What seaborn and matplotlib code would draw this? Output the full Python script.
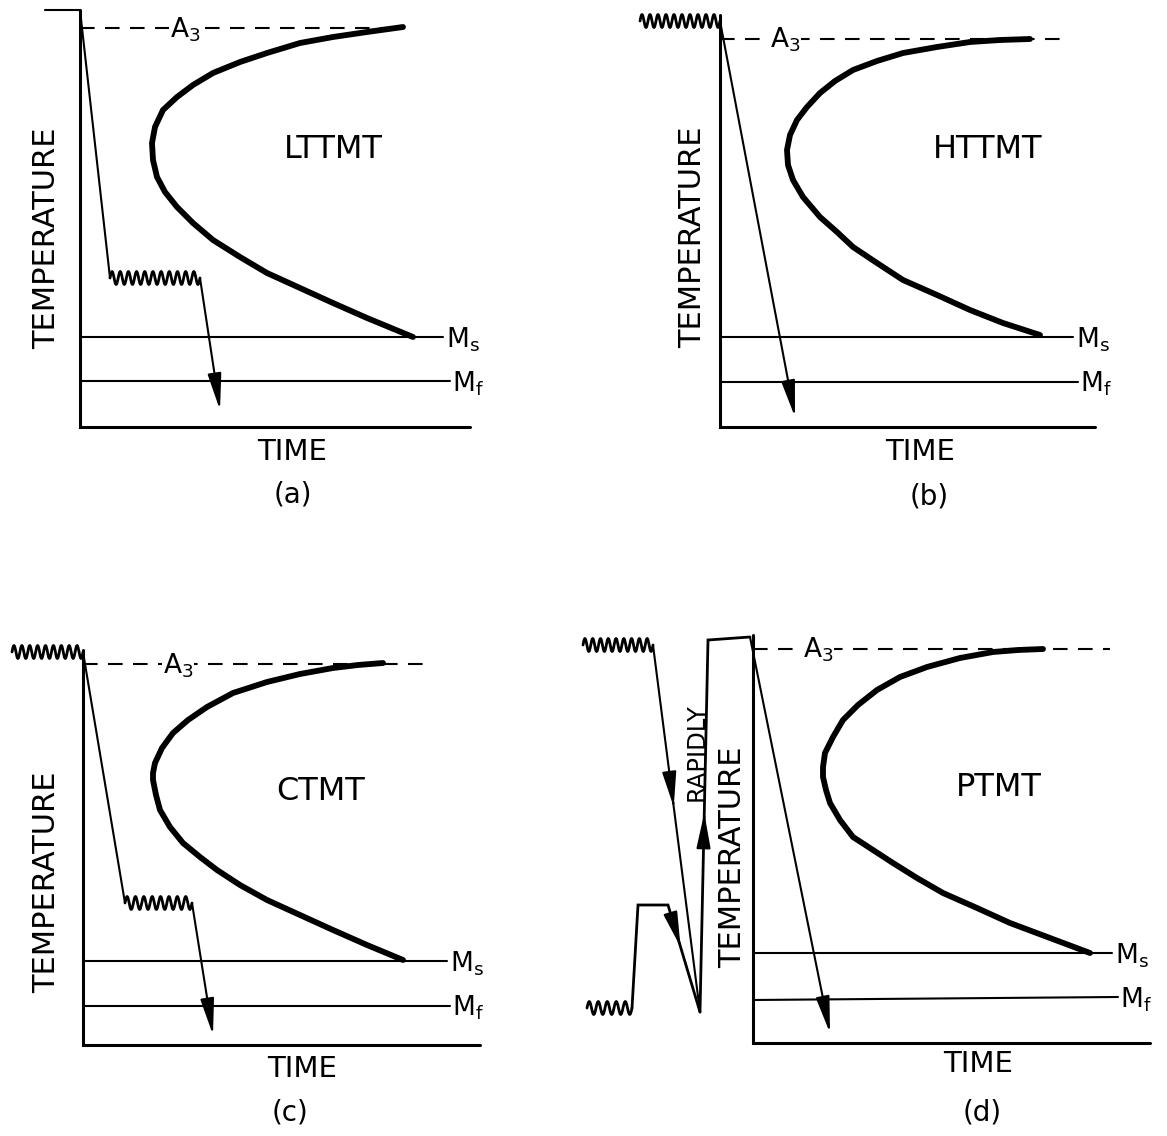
import numpy as np
import pandas as pd
import matplotlib
matplotlib.use("Agg")
import matplotlib.pyplot as plt
import seaborn as sns

sns.set_theme(style="white")
plt.rcParams["font.family"] = ["DejaVu Sans"]
plt.rcParams["mathtext.default"] = "regular"
plt.rcParams["text.color"] = "black"

W, H = 1167, 1136

# ---------------- data (local units: time to the right of the temperature axis,
# temperature above the time axis) ----------------
panel_tags = ["(a)", "(b)", "(c)", "(d)"]
process_names = ["LTTMT", "HTTMT", "CTMT", "PTMT"]

# C-curves (start of transformation)
c_time_a = [323, 287, 253, 220, 187, 160, 133, 113, 97, 83, 75, 72, 73, 77, 85, 97, 113, 133,
            160, 187, 220, 253, 287, 333]
c_temp_a = [400, 395, 390, 384, 374, 365, 354, 342, 330, 317, 300, 284, 267, 250, 235, 220, 204,
            187, 170, 154, 139, 124, 109, 90]
c_time_b = [310, 280, 250, 217, 183, 157, 133, 115, 100, 87, 77, 70, 67, 68, 73, 83, 100, 117,
            133, 157, 183, 217, 250, 283, 320]
c_temp_b = [388, 387, 385, 380, 374, 366, 357, 346, 334, 320, 307, 292, 277, 262, 247, 230, 210,
            195, 180, 164, 147, 132, 117, 104, 92]
c_time_c = [300, 275, 250, 217, 184, 150, 124, 105, 90, 79, 72, 70, 70, 73, 77, 87, 100, 117,
            134, 157, 184, 217, 250, 284, 320]
c_temp_c = [382, 380, 377, 371, 363, 352, 338, 325, 312, 297, 282, 272, 265, 250, 235, 218, 202,
            188, 175, 160, 145, 130, 115, 100, 85]
c_time_d = [290, 265, 240, 207, 174, 147, 124, 105, 90, 80, 72, 70, 70, 73, 77, 87, 100, 120,
            140, 164, 190, 224, 257, 297, 337]
c_temp_d = [394, 393, 391, 385, 376, 366, 353, 338, 323, 306, 290, 276, 266, 253, 240, 223, 206,
            193, 180, 165, 150, 135, 120, 105, 90]

a3_level = [399, 388, 381, 394]
a3_end = [323, 348, 350, 357]
a3_label_x = [90, 50, 80, 50]
ms_level = [90, 90, 84, 90]
ms_end = [363, 353, 364, 359]
mf_level_left = [46, 45, 39, 43]
mf_level_right = [46, 45, 39, 46]
mf_end = [370, 358, 367, 365]
temp_axis_top = [417, 412, 395, 408]
time_axis_end = [390, 375, 397, 397]

# label positions (local units)
temp_label_pos = [(-33, 189), (-27, 190), (-36, 163), (-20, 186)]
name_pos = [(253, 277), (268, 277), (238, 253), (246, 255)]
time_label_pos = [(212, -25), (200, -25), (219, -24), (225, -21)]
tag_pos = [(213, -68), (209, -70), (207, -67), (229, -69)]

# thermomechanical paths
# (a) LTTMT
path_a_time = [-35, 0, 30]
path_a_temp = [417, 417, 149]
hold_a = (30, 120, 149, 11)
arrow_a = ((120, 149), (140, 17))
# (b) HTTMT
hold_b = (-80, 0, 406, 10)
arrow_b = ((0, 406), (75, 10))
# (c) CTMT
hold_c1 = (-71, 0, 393, 9)
path_c_time = [0, 42]
path_c_temp = [393, 142]
hold_c2 = (42, 109, 142, 8)
arrow_c = ((109, 142), (130, 10))
# (d) PTMT
hold_d1 = (-170, -100, 398, 9)
path_d1_time = [-100, -53]
path_d1_temp = [398, 31]
mid_d1 = 236
hold_d2 = (-166, -121, 35, 5)
path_d2_time = [-121, -115, -85, -53]
path_d2_temp = [35, 138, 138, 31]
mid_d2 = 96
path_d3_time = [-53, -45, -3]
path_d3_temp = [31, 403, 406]
mid_d3 = 230
arrow_d = ((-3, 406), (77, 10))
rapid_label_pos = (-56, 291)

# panel boxes in figure pixels and axis origins in figure pixels
boxes = [(0, 0, 583, 560), (583, 0, 1167, 560), (0, 560, 560, 1136), (560, 560, 1167, 1136)]
origins = [(80, 427), (720, 427), (83, 1045), (753, 1043)]

LW_AX = 2.2
LW = 1.5
LW_C = 4.2

fig = plt.figure(figsize=(W / 100, H / 100), dpi=100)
fig.patch.set_facecolor("white")

axes = []
for (bx0, by0, bx1, by1), (ox, oy) in zip(boxes, origins):
    ax = fig.add_axes([bx0 / W, 1 - by1 / H, (bx1 - bx0) / W, (by1 - by0) / H])
    ax.set_xlim(bx0 - ox, bx1 - ox)
    ax.set_ylim(oy - by1, oy - by0)
    ax.axis("off")
    axes.append(ax)


def hold_wave(ax, spec, lw=2.0):
    x0, x1, level, cycles = spec
    t = np.linspace(0, 1, cycles * 20 + 1)
    ax.plot(x0 + (x1 - x0) * t, level + 6.5 * np.sin(2 * np.pi * cycles * t),
            color="black", lw=lw, solid_joinstyle="round", clip_on=False)


def arrow(ax, start, end, ms=28, hl=0.8, hw=0.15):
    ax.annotate("", xy=end, xytext=start,
                arrowprops=dict(arrowstyle=f"-|>,head_length={hl},head_width={hw}",
                                color="black", lw=LW, shrinkA=0, shrinkB=0,
                                mutation_scale=ms), annotation_clip=False)


def mid_arrow(ax, p0, p1, y_tip):
    p0 = np.array(p0, float)
    p1 = np.array(p1, float)
    t = (y_tip - p0[1]) / (p1[1] - p0[1])
    tip = p0 + t * (p1 - p0)
    d = (p1 - p0) / np.linalg.norm(p1 - p0)
    arrow(ax, tuple(tip - 4 * d), tuple(tip), ms=24, hl=0.9, hw=0.18)


c_curves = [(c_time_a, c_temp_a), (c_time_b, c_temp_b), (c_time_c, c_temp_c), (c_time_d, c_temp_d)]

for i, ax in enumerate(axes):
    # axes
    ax.plot([0, 0, time_axis_end[i]], [temp_axis_top[i], 0, 0], color="black",
            lw=LW_AX, solid_joinstyle="miter", clip_on=False)
    # A3
    ax.plot([0, a3_end[i]], [a3_level[i], a3_level[i]], color="black", lw=LW,
            dashes=(7, 5), clip_on=False)
    ax.text(a3_label_x[i], a3_level[i] - 9, "A$_3$", fontsize=19, ha="left", va="baseline",
            bbox=dict(facecolor="white", edgecolor="none", pad=0.5), zorder=5)
    # Ms / Mf
    df_m = pd.DataFrame({"time": [0, ms_end[i]], "temp": [ms_level[i]] * 2})
    sns.lineplot(data=df_m, x="time", y="temp", color="black", lw=LW, ax=ax,
                 sort=False, estimator=None)
    df_f = pd.DataFrame({"time": [0, mf_end[i]], "temp": [mf_level_left[i], mf_level_right[i]]})
    sns.lineplot(data=df_f, x="time", y="temp", color="black", lw=LW, ax=ax,
                 sort=False, estimator=None)
    ax.text(ms_end[i] + 3, ms_level[i] - 10, "M$_s$", fontsize=19, ha="left", va="baseline")
    ax.text(mf_end[i] + 2, mf_level_right[i] - 10, "M$_f$", fontsize=19, ha="left", va="baseline")
    # C-curve
    ct, cy = c_curves[i]
    df_c = pd.DataFrame({"time": ct, "temp": cy})
    sns.lineplot(data=df_c, x="time", y="temp", color="black", lw=LW_C, ax=ax,
                 sort=False, estimator=None, solid_capstyle="round", solid_joinstyle="round")
    # labels
    tx, ty = temp_label_pos[i]
    ax.text(tx, ty, "TEMPERATURE", fontsize=22, rotation=90, ha="center", va="center")
    nx, ny = name_pos[i]
    ax.text(nx, ny, process_names[i], fontsize=23, ha="center", va="center")
    mx, my = time_label_pos[i]
    ax.text(mx, my, "TIME", fontsize=21, ha="center", va="center")
    gx, gy = tag_pos[i]
    ax.text(gx, gy, panel_tags[i], fontsize=20, ha="center", va="center")
    ax.set_xlabel("")
    ax.set_ylabel("")

# (a)
ax = axes[0]
ax.plot(path_a_time, path_a_temp, color="black", lw=LW, solid_joinstyle="miter", clip_on=False)
hold_wave(ax, hold_a)
arrow(ax, *arrow_a)

# (b)
ax = axes[1]
hold_wave(ax, hold_b)
arrow(ax, *arrow_b)

# (c)
ax = axes[2]
hold_wave(ax, hold_c1)
ax.plot(path_c_time, path_c_temp, color="black", lw=LW, clip_on=False)
hold_wave(ax, hold_c2)
arrow(ax, *arrow_c)

# (d)
ax = axes[3]
hold_wave(ax, hold_d1)
ax.plot(path_d1_time, path_d1_temp, color="black", lw=LW, clip_on=False)
mid_arrow(ax, (path_d1_time[0], path_d1_temp[0]), (path_d1_time[1], path_d1_temp[1]), mid_d1)
hold_wave(ax, hold_d2)
ax.plot(path_d2_time, path_d2_temp, color="black", lw=LW + 0.5, clip_on=False,
        solid_joinstyle="miter")
mid_arrow(ax, (path_d2_time[2], path_d2_temp[2]), (path_d2_time[3], path_d2_temp[3]), mid_d2)
ax.plot(path_d3_time, path_d3_temp, color="black", lw=LW + 0.5, clip_on=False,
        solid_joinstyle="miter")
mid_arrow(ax, (path_d3_time[0], path_d3_temp[0]), (path_d3_time[1], path_d3_temp[1]), mid_d3)
arrow(ax, *arrow_d)
ax.text(rapid_label_pos[0], rapid_label_pos[1], "RAPIDLY", fontsize=17.5, rotation=90,
        ha="center", va="center")

fig.savefig("out.png", dpi=100, facecolor="white")
